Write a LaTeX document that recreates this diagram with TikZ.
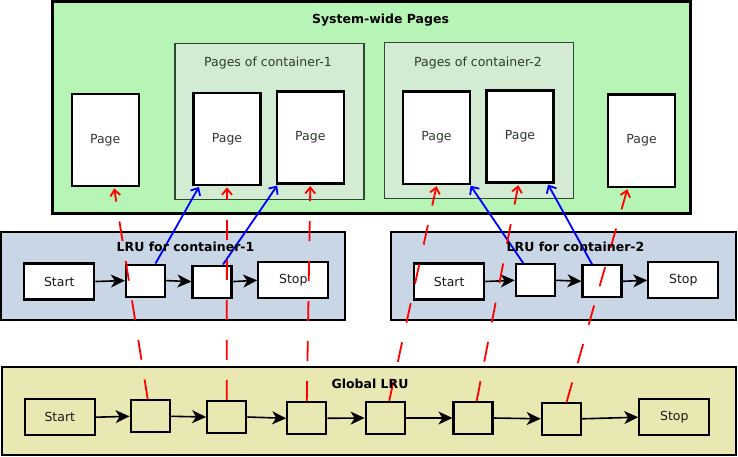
\documentclass[tikz,border=0pt]{standalone}
\usepackage{fontspec}
\setmainfont{DejaVu Sans}
\usetikzlibrary{arrows.meta}
\definecolor{sysgreen}{RGB}{182,245,182}
\definecolor{contgreen}{RGB}{211,234,211}
\definecolor{contborder}{RGB}{50,70,50}
\definecolor{lrublue}{RGB}{201,214,229}
\definecolor{globkhaki}{RGB}{233,232,179}
\definecolor{pgtext}{RGB}{45,60,45}
\definecolor{redline}{RGB}{255,0,0}
\definecolor{blueline}{RGB}{0,0,255}
\tikzset{
  bigbox/.style={draw=black, line width=2.2pt, inner sep=0pt},
  contbox/.style={draw=contborder, line width=1.6pt, fill=contgreen, inner sep=0pt},
  pagebox/.style={draw=black, line width=2.2pt, fill=white, inner sep=0pt, minimum width=67pt, minimum height=92pt, text=pgtext, font=\fontsize{12.5}{15}\selectfont},
  endbox/.style={draw=black, line width=2.2pt, inner sep=0pt, minimum width=70pt, minimum height=36pt, text=black!90, font=\fontsize{12.5}{15}\selectfont},
  cell/.style={draw=black, line width=2.2pt, inner sep=0pt, minimum width=39pt, minimum height=32pt},
  ttl/.style={font=\bfseries\fontsize{12.5}{15}\selectfont, inner sep=0pt},
  ctl/.style={font=\fontsize{12.5}{15}\selectfont, text=pgtext, inner sep=0pt},
  link/.style={line width=1.6pt, -{Stealth[length=14pt,width=13pt,inset=4pt]}},
  bluearr/.style={draw=blueline, line width=1.8pt, -{Straight Barb[length=6pt,width=11pt]}},
  redarr/.style={draw=redline, line width=1.8pt, dash pattern=on 20pt off 20pt, -{Straight Barb[length=6pt,width=10pt]}}
}
\begin{document}
\begin{tikzpicture}[x=1pt,y=-1pt]
\useasboundingbox (0,0) rectangle (738,457);
% System-wide pages
\node[bigbox, fill=sysgreen, minimum width=638pt, minimum height=212pt] (sys) at (371.5,107.5) {};
\node[contbox, minimum width=189pt, minimum height=156pt] (c1) at (269.5,121.5) {};
\node[contbox, minimum width=189pt, minimum height=156pt] (c2) at (479,120.5) {};
\node[pagebox] (p0) at (105.2,139.8) {Page};
\node[pagebox] (p1) at (227,138.8) {Page};
\node[pagebox] (p2) at (310.3,137.5) {Page};
\node[pagebox] (p3) at (436.5,137.6) {Page};
\node[pagebox] (p4) at (520,136.5) {Page};
\node[pagebox] (p5) at (641.6,140.6) {Page};
% LRU container-1
\node[bigbox, fill=lrublue, minimum width=344pt, minimum height=88pt] (l1) at (173.3,275.6) {};
\node[endbox, fill=white] (l1s) at (59.3,281.5) {Start};
\node[cell, fill=white] (l1a) at (145.5,280.6) {};
\node[cell, fill=white] (l1b) at (212,281.6) {};
\node[endbox, fill=white] (l1e) at (293.3,280.3) {Stop};
% LRU container-2
\node[bigbox, fill=lrublue, minimum width=345pt, minimum height=88pt] (l2) at (563.2,275.6) {};
\node[endbox, fill=white] (l2s) at (449.2,281.5) {Start};
\node[cell, fill=white] (l2a) at (535.3,280.3) {};
\node[cell, fill=white] (l2b) at (602,281.3) {};
\node[endbox, fill=white] (l2e) at (683.3,280.3) {Stop};
% Global LRU
\node[bigbox, fill=globkhaki, minimum width=734pt, minimum height=88pt] (gl) at (369,411.2) {};
\node[endbox] (gs) at (59.8,417.2) {Start};
\node[cell] (g1) at (150.2,416.3) {};
\node[cell] (g2) at (226.7,417) {};
\node[cell] (g3) at (306.8,418.3) {};
\node[cell] (g4) at (385.2,418) {};
\node[cell] (g5) at (473,418) {};
\node[cell] (g6) at (561.3,418.8) {};
\node[endbox] (ge) at (674.3,417.2) {Stop};
% black links
\draw[link] (l1s.east) -- (l1a.west);
\draw[link] (l1a.east) -- (l1b.west);
\draw[link] (l1b.east) -- (l1e.west);
\draw[link] (l2s.east) -- (l2a.west);
\draw[link] (l2a.east) -- (l2b.west);
\draw[link] (l2b.east) -- (l2e.west);
\draw[link] (gs.east) -- (g1.west);
\draw[link] (g1.east) -- (g2.west);
\draw[link] (g2.east) -- (g3.west);
\draw[link] (g3.east) -- (g4.west);
\draw[link] (g4.east) -- (g5.west);
\draw[link] (g5.east) -- (g6.west);
\draw[link] (g6.east) -- (ge.west);
% blue arrows
\draw[bluearr] ([xshift=10pt]l1a.north) -- ([xshift=6.5pt,yshift=-1pt]p1.south west);
\draw[bluearr] ([xshift=11pt]l1b.north) -- ([xshift=1.5pt,yshift=-1pt]p2.south west);
\draw[bluearr] ([xshift=-12pt]l2a.north) -- ([xshift=-0.5pt,yshift=-1pt]p3.south east);
\draw[bluearr] ([xshift=-10pt]l2b.north) -- ([xshift=-6.5pt,yshift=-1pt]p4.south east);
% red dashed arrows
\draw[redarr] ([xshift=-2.5pt]g1.north) -- ([xshift=9pt,yshift=-1.5pt]p0.south);
\draw[redarr] (g2.north) -- ([yshift=-1.5pt]p1.south);
\draw[redarr] (g3.north) -- ([yshift=-1.5pt]p2.south);
\draw[redarr] ([xshift=4pt]g4.north) -- ([yshift=-1.5pt]p3.south);
\draw[redarr] ([xshift=3.7pt]g5.north) -- ([xshift=-1.7pt,yshift=-1.5pt]p4.south);
\draw[redarr] ([xshift=5.4pt]g6.north) -- ([xshift=-14.3pt,yshift=-1.5pt]p5.south);
% titles
\node[ttl] (syst) at (380.5,20) {System-wide Pages};
\node[ctl] (c1t) at (268,63.3) {Pages of container-1};
\node[ctl] (c2t) at (478,63) {Pages of container-2};
\node[ttl] (l1t) at (185.5,247) {LRU for container-1};
\node[ttl] (l2t) at (575.5,247) {LRU for container-2};
\node[ttl] (glt) at (370,384) {Global LRU};
\end{tikzpicture}
\end{document}
